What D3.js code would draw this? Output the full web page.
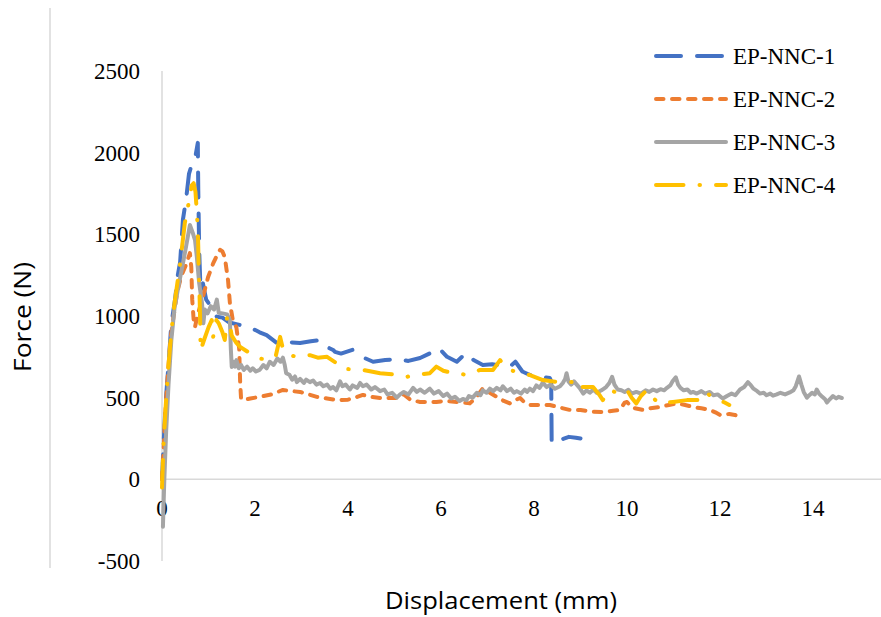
<!DOCTYPE html>
<html>
<head>
<meta charset="utf-8">
<script src="https://cdn.jsdelivr.net/npm/d3@7"></script>
<style>
  body { margin: 0; background: #fff; }
  svg { display: block; }
</style>
</head>
<body>
<div id="chart"></div>
<script>
// displacement (mm), force (N) pairs
const nnc1 = [[0,0],[0.04,250],[0.08,480],[0.14,700],[0.2,950],[0.28,1100],[0.34,1250],[0.39,1330],[0.45,1590],[0.52,1720],[0.58,1870],[0.67,1955],[0.72,1980],[0.77,2060],[0.78,1770],[0.8,1400],[0.83,1150],[0.88,1200],[0.95,1100],[1.05,1060],[1.18,995],[1.3,990],[1.45,960],[1.6,950],[1.75,940],[1.9,930],[2.1,900],[2.25,883],[2.47,835],[2.7,840],[2.97,835],[3.2,845],[3.4,853],[3.55,810],[3.68,792],[3.72,780],[3.85,770],[4.1,793],[4.3,750],[4.54,720],[4.8,730],[5.05,737],[5.3,725],[5.55,743],[5.75,770],[5.9,805],[6.0,790],[6.13,750],[6.34,720],[6.45,750],[6.58,773],[6.7,730],[6.9,700],[7.1,705],[7.3,695],[7.48,690],[7.6,720],[7.75,660],[7.9,640],[8.1,630],[8.34,620],[8.37,600],[8.38,222],[8.45,240],[8.6,245],[8.75,260],[8.9,255],[9.0,250]];

const nnc2 = [[0,0],[0.03,150],[0.07,400],[0.12,620],[0.18,850],[0.25,1000],[0.33,1150],[0.42,1250],[0.53,1322],[0.6,1385],[0.63,1300],[0.65,1100],[0.68,980],[0.71,933],[0.76,1000],[0.88,1117],[0.99,1237],[1.1,1322],[1.18,1370],[1.25,1405],[1.3,1395],[1.35,1360],[1.42,1220],[1.46,1080],[1.52,980],[1.6,930],[1.66,800],[1.68,600],[1.7,495],[1.74,485],[1.9,495],[2.1,505],[2.35,520],[2.6,547],[2.8,540],[2.97,535],[3.15,520],[3.33,505],[3.55,495],[3.76,485],[4.0,488],[4.15,500],[4.32,517],[4.5,505],[4.69,498],[5.05,498],[5.2,520],[5.35,485],[5.55,474],[5.9,474],[6.1,480],[6.34,474],[6.62,465],[6.75,500],[6.9,557],[7.05,530],[7.2,505],[7.35,480],[7.48,465],[7.6,485],[7.7,498],[7.8,470],[7.91,455],[8.1,455],[8.34,455],[8.55,440],[8.77,425],[9.0,425],[9.2,415],[9.48,412],[9.7,420],[9.85,425],[9.95,470],[10.0,474],[10.1,440],[10.34,425],[10.5,435],[10.7,443],[10.9,455],[11.07,465],[11.25,455],[11.42,443],[11.6,435],[11.78,425],[11.9,410],[12.0,394],[12.2,400],[12.32,394],[12.4,385]];

const nnc3 = [[0.02,-290],[0.05,0],[0.09,300],[0.14,580],[0.2,850],[0.27,1050],[0.35,1177],[0.45,1322],[0.52,1430],[0.6,1557],[0.66,1510],[0.71,1465],[0.75,1360],[0.8,1200],[0.86,1080],[0.89,955],[0.92,1040],[0.98,1016],[1.05,1060],[1.12,1040],[1.18,1100],[1.22,1020],[1.3,1016],[1.4,1010],[1.46,975],[1.48,800],[1.5,688],[1.53,720],[1.57,690],[1.6,730],[1.65,680],[1.7,700],[1.76,670],[1.83,690],[1.9,665],[1.95,680],[2.02,660],[2.1,670],[2.18,700],[2.25,680],[2.32,720],[2.4,700],[2.48,740],[2.55,720],[2.6,745],[2.64,700],[2.67,650],[2.74,640],[2.8,610],[2.86,630],[2.9,595],[2.97,615],[3.05,590],[3.1,610],[3.18,595],[3.25,605],[3.32,580],[3.4,590],[3.47,570],[3.55,580],[3.62,555],[3.68,565],[3.75,545],[3.83,600],[3.88,570],[3.95,580],[4.04,550],[4.1,575],[4.2,560],[4.26,590],[4.32,570],[4.4,580],[4.5,550],[4.58,565],[4.69,540],[4.78,550],[4.85,520],[4.95,530],[5.05,500],[5.12,520],[5.2,535],[5.3,520],[5.4,560],[5.48,535],[5.55,550],[5.65,530],[5.76,555],[5.85,525],[5.95,540],[6.05,510],[6.13,525],[6.22,495],[6.3,505],[6.4,480],[6.47,492],[6.55,485],[6.6,510],[6.68,500],[6.77,530],[6.85,515],[6.9,545],[6.98,530],[7.05,555],[7.12,540],[7.2,560],[7.28,545],[7.33,570],[7.42,540],[7.5,555],[7.57,530],[7.63,540],[7.72,525],[7.8,550],[7.85,535],[7.91,555],[7.98,540],[8.05,575],[8.12,560],[8.19,592],[8.27,565],[8.35,580],[8.45,555],[8.56,570],[8.62,590],[8.67,615],[8.7,650],[8.74,600],[8.8,580],[8.86,600],[8.92,580],[8.98,560],[9.06,525],[9.13,545],[9.2,530],[9.28,550],[9.35,530],[9.45,545],[9.55,565],[9.62,590],[9.68,628],[9.73,580],[9.8,550],[9.88,545],[9.95,535],[10.03,548],[10.1,525],[10.2,535],[10.3,525],[10.4,545],[10.48,535],[10.56,550],[10.64,540],[10.72,552],[10.8,545],[10.86,560],[10.93,575],[10.98,600],[11.05,625],[11.1,580],[11.15,560],[11.22,545],[11.3,550],[11.37,530],[11.42,535],[11.5,525],[11.6,540],[11.68,525],[11.78,535],[11.86,515],[11.95,520],[12.06,495],[12.15,510],[12.25,525],[12.33,515],[12.43,550],[12.52,565],[12.6,595],[12.65,580],[12.72,555],[12.8,540],[12.86,525],[12.94,530],[13.0,515],[13.08,525],[13.14,512],[13.22,520],[13.3,530],[13.4,520],[13.5,532],[13.58,545],[13.63,570],[13.7,630],[13.75,580],[13.8,535],[13.87,500],[13.92,515],[13.98,530],[14.04,520],[14.08,550],[14.13,525],[14.2,505],[14.26,490],[14.3,470],[14.36,490],[14.43,510],[14.5,495],[14.55,505],[14.62,498]];

const nnc4 = [[0,-50],[0.03,200],[0.08,450],[0.14,700],[0.2,900],[0.27,1080],[0.33,1200],[0.39,1322],[0.49,1568],[0.6,1730],[0.64,1800],[0.68,1813],[0.72,1760],[0.75,1630],[0.77,1525],[0.78,1422],[0.79,1282],[0.81,1100],[0.82,975],[0.83,790],[0.9,850],[1.0,930],[1.07,975],[1.1,872],[1.17,975],[1.22,955],[1.3,900],[1.35,853],[1.4,995],[1.45,960],[1.5,880],[1.6,835],[1.68,811],[1.9,770],[2.1,740],[2.3,730],[2.45,760],[2.54,872],[2.6,800],[2.75,760],[2.9,750],[3.18,760],[3.35,745],[3.55,750],[3.76,710],[3.85,680],[4.0,675],[4.32,670],[4.5,660],[4.69,650],[5.05,640],[5.25,627],[5.5,640],[5.76,650],[5.9,690],[6.05,665],[6.26,650],[6.56,640],[6.84,670],[7.12,670],[7.27,730],[7.38,690],[7.48,670],[7.7,650],[7.9,640],[8.19,608],[8.49,596],[8.84,596],[8.92,608],[8.99,565],[9.27,565],[9.4,520],[9.48,485],[9.55,520],[9.63,547],[9.8,528],[10.0,547],[10.1,500],[10.2,465],[10.3,510],[10.43,547],[10.55,500],[10.7,465],[10.99,474],[11.29,485],[11.63,485],[11.72,528],[11.85,500],[12.0,485],[12.1,470],[12.2,455]];

const seriesNames = ['EP-NNC-1', 'EP-NNC-2', 'EP-NNC-3', 'EP-NNC-4'];
const xTicks = [0, 2, 4, 6, 8, 10, 12, 14];
const yTicks = [-500, 0, 500, 1000, 1500, 2000, 2500];

const W = 881, H = 617;
const serif = '"Liberation Serif", "Times New Roman", serif';
const sans = '"Open Sans", Lato, sans-serif';

const styles = [
    { color: '#4472C4', dash: '25,16' },
    { color: '#ED7D31', dash: '7.5,8.5' },
    { color: '#A5A5A5', dash: null },
    { color: '#FFC000', dash: '27.5,16,0.5,16' }
];

const x = d3.scaleLinear().domain([0, 16]).range([162, 906]);
const y = d3.scaleLinear().domain([-500, 2500]).range([561, 71]);

const svg = d3.select('#chart')
    .append('svg')
        .attr('width', W)
        .attr('height', H);

// chart-area border on the left (the rest is cropped away)
svg.append('line')
    .attr('x1', 50).attr('x2', 50)
    .attr('y1', 8).attr('y2', 568)
    .attr('stroke', '#d9d9d9')
    .attr('stroke-width', 1.5);

// axis lines
svg.append('line')
    .attr('x1', x(0)).attr('x2', W)
    .attr('y1', y(0)).attr('y2', y(0))
    .attr('stroke', '#d9d9d9')
    .attr('stroke-width', 1.5);

svg.append('line')
    .attr('x1', x(0)).attr('x2', x(0))
    .attr('y1', y(2500)).attr('y2', y(-500))
    .attr('stroke', '#d9d9d9')
    .attr('stroke-width', 1.5);

// tick labels
svg.append('g')
    .selectAll('text')
    .data(yTicks)
    .enter()
    .append('text')
        .attr('x', 140)
        .attr('y', d => y(d))
        .attr('dy', '0.35em')
        .attr('text-anchor', 'end')
        .attr('font-family', serif)
        .attr('font-size', '23px')
        .text(d => d);

svg.append('g')
    .selectAll('text')
    .data(xTicks)
    .enter()
    .append('text')
        .attr('x', d => x(d))
        .attr('y', 516)
        .attr('text-anchor', 'middle')
        .attr('font-family', serif)
        .attr('font-size', '23px')
        .text(d => d);

// series
const line = d3.line()
    .x(d => x(d[0]))
    .y(d => y(d[1]));

const plot = svg.append('g');
[nnc1, nnc2, nnc3, nnc4].forEach((data, i) => {
    plot.append('path')
        .datum(data)
        .attr('fill', 'none')
        .attr('stroke', styles[i].color)
        .attr('stroke-width', 4)
        .attr('stroke-linecap', 'round')
        .attr('stroke-linejoin', 'round')
        .attr('stroke-dasharray', styles[i].dash)
        .attr('d', line);
});

// axis titles
svg.append('text')
    .attr('transform', 'translate(31, 317) rotate(-90)')
    .attr('text-anchor', 'middle')
    .attr('font-family', sans)
    .attr('font-size', '24px')
    .attr('textLength', 110)
    .attr('lengthAdjust', 'spacingAndGlyphs')
    .text('Force (N)');

svg.append('text')
    .attr('x', 501)
    .attr('y', 609)
    .attr('text-anchor', 'middle')
    .attr('font-family', sans)
    .attr('font-size', '24px')
    .attr('textLength', 232)
    .attr('lengthAdjust', 'spacingAndGlyphs')
    .text('Displacement (mm)');

// legend
const legend = svg.append('g').attr('transform', 'translate(656, 56)');
seriesNames.forEach((name, i) => {
    const yOff = i * 43;
    legend.append('line')
        .attr('x1', 0).attr('x2', 70)
        .attr('y1', yOff).attr('y2', yOff)
        .attr('stroke', styles[i].color)
        .attr('stroke-width', 4)
        .attr('stroke-linecap', 'round')
        .attr('stroke-dasharray', styles[i].dash);
    legend.append('text')
        .attr('x', 77)
        .attr('y', yOff)
        .attr('dy', '0.35em')
        .attr('font-family', serif)
        .attr('font-size', '23px')
        .text(name);
});
</script>
</body>
</html>
